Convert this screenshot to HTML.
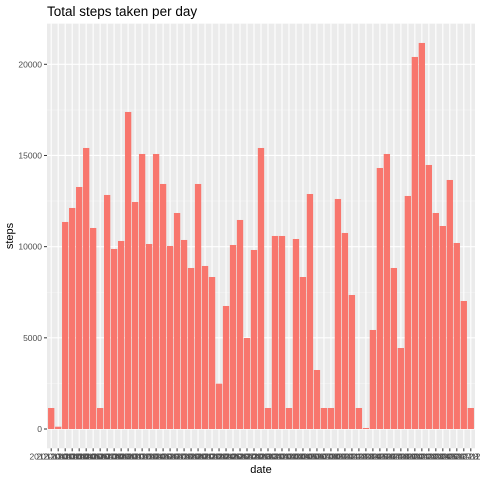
<!DOCTYPE html>
<html><head><meta charset="utf-8"><style>
body{margin:0;background:#fff;}
svg{display:block;font-family:"Liberation Sans",sans-serif;}
</style></head><body>
<svg id="chart" width="480" height="480"></svg>
<script>
const dates = [];
for (let i = 1; i <= 31; i++) dates.push('2012-10-' + String(i).padStart(2, '0'));
for (let i = 1; i <= 30; i++) dates.push('2012-11-' + String(i).padStart(2, '0'));
const steps = [1152,126,11353,12121,13272,15411,11024,1152,12834,9872,10311,17386,12450,15082,10146,15082,13437,10037,11846,10366,8830,13437,8940,8336,2486,6746,10091,11463,4991,9817,15411,1152,10585,10585,1152,10420,8336,12888,3236,1152,1152,12614,10750,7349,1152,55,5430,14314,15082,8830,4442,12779,20402,21170,14479,11846,11133,13656,10201,7020,1152];
const yTicks = [0,5000,10000,15000,20000];
const yTickLabels = ['0','5000','10000','15000','20000'];

const NS = 'http://www.w3.org/2000/svg';
const svg = document.getElementById('chart');
const pL = 47, pR = 475;
const maxV = Math.max(...steps);
const yMin = -0.05 * maxV, yMax = 1.05 * maxV;
const yZero = 429, pxPer = 364.7 / 20000;
const pT = yZero - yMax * pxPer, pB = yZero - yMin * pxPer;
const n = dates.length;
const step = (pR - pL) / (n - 1 + 1.2);
const x = i => pL + (i + 0.6) * step;
const y = v => yZero - v * pxPer;
function mk(tag, attrs, parent) {
  const e = document.createElementNS(NS, tag);
  for (const k in attrs) e.setAttribute(k, attrs[k]);
  (parent || svg).appendChild(e);
  return e;
}
const panel = mk('rect', {x: pL, y: pT, width: pR - pL, height: pB - pT, fill: '#ebebeb'});


// minor y grid
for (let i = 0; i < yTicks.length; i++) {
  const mv = yTicks[i] + 2500;
  if (y(mv) > pT) {
    const g = mk('line', {x1: pL, x2: pR, y1: y(mv), y2: y(mv), stroke: '#f5f5f5', 'stroke-width': 0.6});
    
    
  }
}
yTicks.forEach((t, i) => {
  const g = mk('line', {x1: pL, x2: pR, y1: y(t), y2: y(t), stroke: '#fff', 'stroke-width': 1.1});
  
  
  const tk = mk('line', {x1: pL - 3, x2: pL, y1: y(t), y2: y(t), stroke: '#333', 'stroke-width': 1});
  
  
  const lb = mk('text', {x: pL - 5, y: y(t) + 3, 'text-anchor': 'end', 'font-size': 8.5, fill: '#4d4d4d'});
  lb.textContent = yTickLabels[i];
  
  
});
dates.forEach((d, i) => {
  const g = mk('line', {x1: x(i), x2: x(i), y1: pT, y2: pB, stroke: '#fff', 'stroke-width': 1.1});
  
  
});
steps.forEach((v, i) => {
  const w = step * 0.9;
  const b = mk('rect', {x: x(i) - w / 2, y: y(v), width: w, height: y(0) - y(v), fill: '#f8766d'});
  
  
});
dates.forEach((d, i) => {
  const tk = mk('line', {x1: x(i), x2: x(i), y1: pB, y2: pB + 3, stroke: '#333', 'stroke-width': 1});
  
  
  const lb = mk('text', {x: x(i), y: pB + 11, 'text-anchor': 'middle', 'font-size': 8.5, fill: '#4d4d4d'});
  lb.textContent = d;
  
  
});
const t = mk('text', {x: pL, y: 16, 'font-size': 13.5, fill: '#000'});
t.textContent = 'Total steps taken per day';


const xt = mk('text', {x: (pL + pR) / 2, y: 473, 'text-anchor': 'middle', 'font-size': 11, fill: '#000'});
xt.textContent = 'date';


const yt = mk('text', {x: 0, y: 0, 'text-anchor': 'middle', 'font-size': 11, fill: '#000', transform: 'translate(13,' + ((pT + pB) / 2) + ') rotate(-90)'});
yt.textContent = 'steps';


</script>
</body></html>
